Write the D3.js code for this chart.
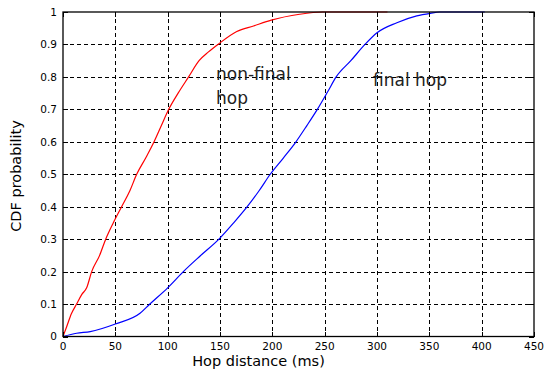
<!DOCTYPE html>
<html><head><meta charset="utf-8">
<script src="https://cdn.jsdelivr.net/npm/d3@7"></script>
<style>body{margin:0;background:#fff}svg{display:block}</style>
</head><body>
<script>
// Data
const xTicks = [0,50,100,150,200,250,300,350,400,450];
const yTicks = [0,0.1,0.2,0.3,0.4,0.5,0.6,0.7,0.8,0.9,1];
const nonFinalX = [0,3.5,8,13,18,22.6,27.4,35,40.8,48,56,64,70.4,79,87,94,101,110,120,130,139,148,166,182,199,226,248,310];
const nonFinalP = [0,0.03,0.07,0.1,0.13,0.15,0.2,0.25,0.3,0.35,0.4,0.45,0.5,0.55,0.6,0.65,0.7,0.75,0.8,0.85,0.877,0.9,0.94,0.957,0.975,0.993,1,1];
const finalX = [0,13,26,50,73.6,83,100,115,131,149,163,176,187.5,198,210.5,222.6,233,243,253,261,275,288.5,300,319,338,351,360,403];
const finalP = [0,0.01,0.015,0.0385,0.0715,0.1,0.15,0.2,0.248,0.3,0.35,0.4,0.45,0.5,0.55,0.6,0.65,0.7,0.755,0.8,0.85,0.9,0.936,0.967,0.988,0.996,1,1];
const seriesNames = ["non-final hop","final hop"];
const xLabel = "Hop distance (ms)";
const yLabel = "CDF probability";

const W = 545, H = 376;
const L = 63, R = 534, T = 12, B = 336.5;
const x = d3.scaleLinear().domain([0,450]).range([L,R]);
const y = d3.scaleLinear().domain([0,1]).range([B,T]);

const svg = d3.select("body").append("svg").attr("width",W).attr("height",H);
const font = "DejaVu Sans, Arial, sans-serif";

// grid
const g = svg.append("g").attr("stroke","#000").attr("stroke-width",1).attr("stroke-dasharray","4,3").attr("shape-rendering","crispEdges");
g.selectAll(".vx").data(xTicks.slice(1,-1)).join("line")
  .attr("x1",d=>Math.round(x(d))+0.5).attr("x2",d=>Math.round(x(d))+0.5).attr("y1",T).attr("y2",B);
g.selectAll(".hy").data(yTicks.slice(1,-1)).join("line")
  .attr("y1",d=>Math.round(y(d))+0.5).attr("y2",d=>Math.round(y(d))+0.5).attr("x1",L).attr("x2",R);

// series
const line = d3.line().x(d=>x(d[0])).y(d=>y(d[1])).curve(d3.curveMonotoneX);
svg.append("path").datum(nonFinalX.map((v,i)=>[v,nonFinalP[i]]))
  .attr("d",line).attr("fill","none").attr("stroke","#ff0000").attr("stroke-width",1.2);
svg.append("path").datum(finalX.map((v,i)=>[v,finalP[i]]))
  .attr("d",line).attr("fill","none").attr("stroke","#0000ff").attr("stroke-width",1.2);

// axes box + inner ticks
const tk = svg.append("g").attr("stroke","#000").attr("stroke-width",1).attr("shape-rendering","crispEdges");
xTicks.forEach(d=>{
  const px = Math.round(x(d))+0.5;
  tk.append("line").attr("x1",px).attr("x2",px).attr("y1",B).attr("y2",B-5);
  tk.append("line").attr("x1",px).attr("x2",px).attr("y1",T).attr("y2",T+5);
});
yTicks.forEach(d=>{
  const py = Math.round(y(d))+0.5;
  tk.append("line").attr("y1",py).attr("y2",py).attr("x1",L).attr("x2",L+5);
  tk.append("line").attr("y1",py).attr("y2",py).attr("x1",R).attr("x2",R-5);
});
svg.append("rect").attr("x",L).attr("y",T).attr("width",R-L).attr("height",B-T)
  .attr("fill","none").attr("stroke","#000").attr("stroke-width",1.3);

// tick labels
svg.append("g").selectAll("text").data(xTicks).join("text")
  .attr("x",d=>x(d)).attr("y",350).attr("text-anchor","middle")
  .attr("font-family",font).attr("font-size",10.5).attr("fill","#000").text(d=>d);
svg.append("g").selectAll("text").data(yTicks).join("text")
  .attr("x",57).attr("y",d=>y(d)+3.9).attr("text-anchor","end")
  .attr("font-family",font).attr("font-size",10.5).attr("fill","#000").text(d=>d3.format("~g")(d));

// axis titles
svg.append("text").attr("x",258.5).attr("y",365.5).attr("text-anchor","middle")
  .attr("font-family",font).attr("font-size",14.5).attr("fill","#000").text(xLabel);
svg.append("text").attr("transform","translate(20.5,176) rotate(-90)").attr("text-anchor","middle")
  .attr("font-family",font).attr("font-size",14.5).attr("fill","#000").text(yLabel);

// annotations
const a1 = svg.append("text").attr("font-family",font).attr("font-size",17).attr("fill","#222");
a1.append("tspan").attr("x",216).attr("y",79.5).text("non-final");
a1.append("tspan").attr("x",216).attr("y",103.5).text("hop");
svg.append("text").attr("x",373).attr("y",86).attr("font-family",font).attr("font-size",17).attr("fill","#222").text("final hop");
</script>
</body></html>
